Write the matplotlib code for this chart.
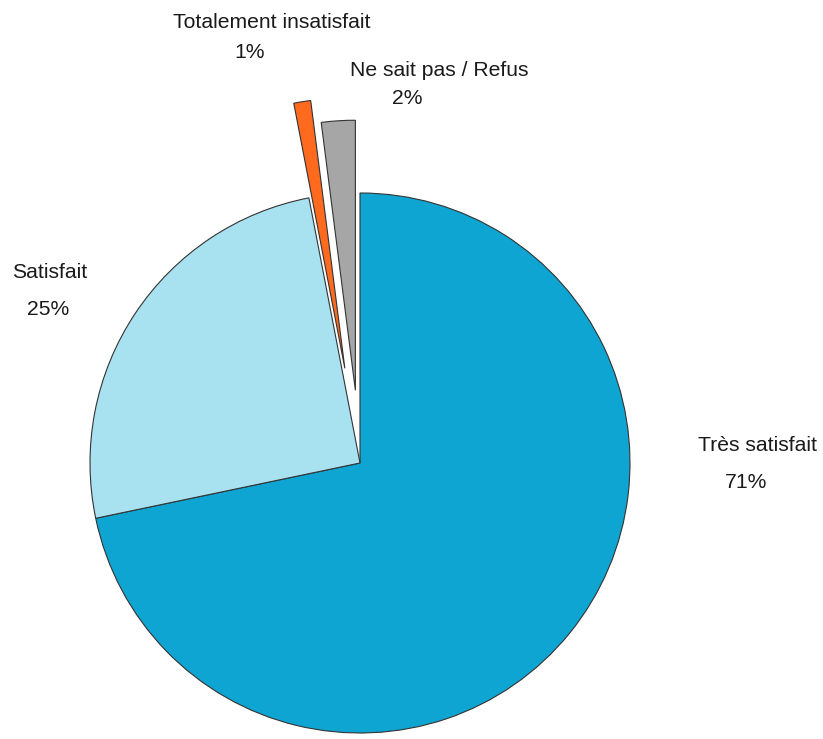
import matplotlib.pyplot as plt

# categories and values (percent)
categories = ["Très satisfait", "Satisfait", "Totalement insatisfait", "Ne sait pas / Refus"]
values = [71, 25, 1, 2]
colors = ["#0FA5D2", "#A8E1F0", "#FF6A1F", "#A6A6A6"]
explode = [0, 0, 0.355, 0.27]

plt.rcParams['font.family'] = ['Liberation Sans', 'DejaVu Sans']

W, H = 823, 739
fig = plt.figure(figsize=(W / 100, H / 100), dpi=100)
ax = fig.add_axes([0, 0, 1, 1])

ax.pie(values, colors=colors, explode=explode, startangle=90, counterclock=False,
       wedgeprops=dict(edgecolor="#333333", linewidth=0.8))

# pie centre at (360, 463) px from top-left, radius 270 px
cx, cy, r = 360, 463, 270
ax.set_xlim(-cx / r, (W - cx) / r)
ax.set_ylim(-(H - cy) / r, cy / r)
ax.set_aspect('equal')
ax.axis('off')

# label lines: (text, x px, y px)
labels = [
    (categories[0], 757, 446), (f"{values[0]}%", 746, 483),
    (categories[1], 50, 273), (f"{values[1]}%", 48, 309),
    (categories[2], 272, 23), (f"{values[2]}%", 250, 52),
    (categories[3], 439, 70), (f"{values[3]}%", 407, 98),
]
for txt, x, y in labels:
    fig.text(x / W, 1 - y / H, txt, ha='center', va='center', fontsize=15.2, color='#1a1a1a')

fig.savefig("out.png", dpi=100)
